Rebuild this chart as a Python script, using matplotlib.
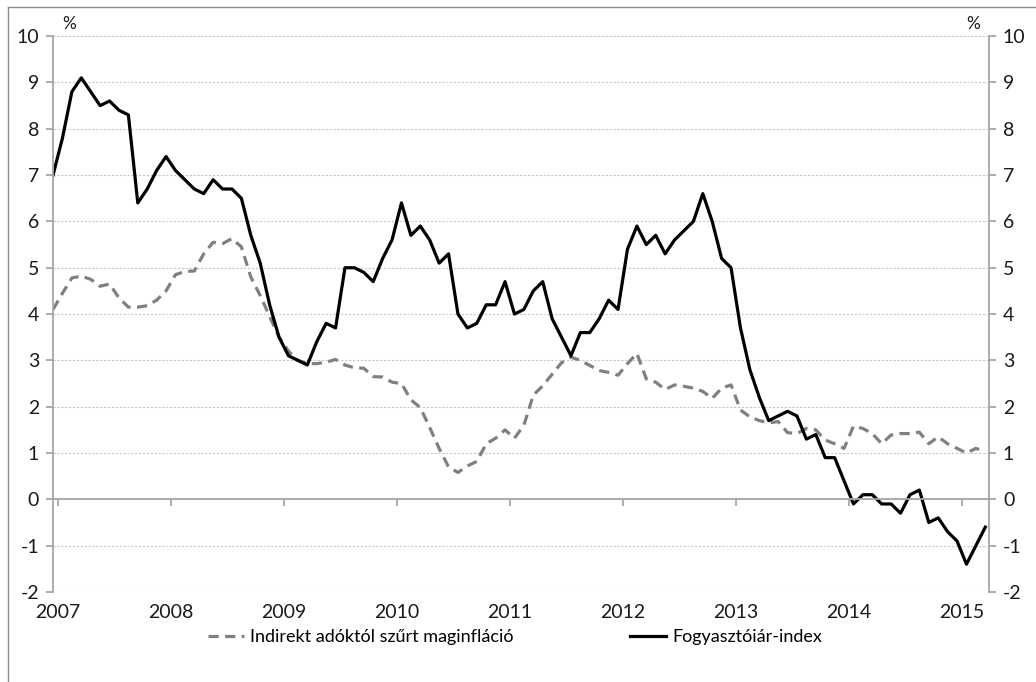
import matplotlib.pyplot as plt
from matplotlib.lines import Line2D

# --------------------------------
# DATA: MONTHLY, DEC 2006 - MAR 2015 (%)
# --------------------------------

years = ["2007", "2008", "2009", "2010", "2011", "2012", "2013", "2014", "2015"]

cpi = [7.0,
       7.8, 8.8, 9.1, 8.8, 8.5, 8.6, 8.4, 8.3, 6.4, 6.7, 7.1, 7.4,
       7.1, 6.9, 6.7, 6.6, 6.9, 6.7, 6.7, 6.5, 5.7, 5.1, 4.2, 3.5,
       3.1, 3.0, 2.9, 3.4, 3.8, 3.7, 5.0, 5.0, 4.9, 4.7, 5.2, 5.6,
       6.4, 5.7, 5.9, 5.6, 5.1, 5.3, 4.0, 3.7, 3.8, 4.2, 4.2, 4.7,
       4.0, 4.1, 4.5, 4.7, 3.9, 3.5, 3.1, 3.6, 3.6, 3.9, 4.3, 4.1,
       5.4, 5.9, 5.5, 5.7, 5.3, 5.6, 5.8, 6.0, 6.6, 6.0, 5.2, 5.0,
       3.7, 2.8, 2.2, 1.7, 1.8, 1.9, 1.8, 1.3, 1.4, 0.9, 0.9, 0.4,
       -0.1, 0.1, 0.1, -0.1, -0.1, -0.3, 0.1, 0.2, -0.5, -0.4, -0.7, -0.9,
       -1.4, -1.0, -0.6]

core = [4.1,
        4.45, 4.78, 4.82, 4.75, 4.6, 4.65, 4.35, 4.15, 4.15, 4.18, 4.3, 4.5,
        4.85, 4.92, 4.93, 5.3, 5.55, 5.52, 5.63, 5.45, 4.8, 4.4, 3.95, 3.5,
        3.2, 3.0, 2.93, 2.93, 2.96, 3.02, 2.9, 2.84, 2.83, 2.65, 2.64, 2.53,
        2.5, 2.15, 1.98, 1.55, 1.1, 0.7, 0.58, 0.72, 0.82, 1.2, 1.32, 1.5,
        1.32, 1.6, 2.25, 2.45, 2.7, 2.95, 3.07, 3.0, 2.89, 2.78, 2.74, 2.68,
        2.93, 3.15, 2.6, 2.53, 2.37, 2.47, 2.44, 2.4, 2.33, 2.18, 2.4, 2.47,
        1.93, 1.78, 1.7, 1.65, 1.68, 1.44, 1.42, 1.53, 1.5, 1.28, 1.2, 1.1,
        1.58, 1.53, 1.42, 1.2, 1.39, 1.42, 1.42, 1.45, 1.2, 1.35, 1.2, 1.1,
        1.0, 1.1, 1.03]

months = list(range(len(cpi)))
year_pos = [12 * k + 0.5 for k in range(len(years))]

plt.rcParams["font.family"] = ["Lato", "DejaVu Sans"]
plt.rcParams["font.size"] = 14
plt.rcParams["axes.unicode_minus"] = False

# --------------------------------
# CHART
# --------------------------------

fig = plt.figure(figsize=(10.36, 6.82), dpi=100)
ax = fig.add_axes([0.0512, 0.132, 0.9035, 0.815])

axis_grey = "#a6a6a6"
text_col = "#1a1a1a"

ax.plot(months, core, color="#808080", lw=2.3, dashes=(3.2, 2.0),
        label="Indirekt adóktól szűrt maginfláció")
ax.plot(months, cpi, color="black", lw=2.3,
        label="Fogyasztóiár-index")

ax.set_xlim(0, 99.4)
ax.set_ylim(-2, 10)
ax.set_yticks(range(-2, 11))
ax.grid(axis="y", color="#c8c8c8", ls=(0, (2, 1.5)), lw=0.8)
ax.set_axisbelow(True)

# x axis drawn at zero, year labels at the bottom
ax.spines["bottom"].set_position(("data", 0))
ax.spines["top"].set_visible(False)
for s in ["bottom", "left", "right"]:
    ax.spines[s].set_color(axis_grey)
    ax.spines[s].set_linewidth(1.3)
ax.set_xticks(year_pos)
ax.set_xticklabels([])
ax.tick_params(axis="x", direction="out", length=5, color=axis_grey, width=1.3)

sec = ax.secondary_xaxis(0.0)
sec.set_xticks(year_pos)
sec.set_xticklabels(years)
sec.spines["bottom"].set_visible(False)
sec.tick_params(length=0, pad=9, labelcolor=text_col)

ax.tick_params(axis="y", left=True, right=True, labelleft=True, labelright=True,
               direction="out", length=5, color=axis_grey, width=1.3,
               pad=5, labelcolor=text_col)

ax.text(0.01, 1.008, "%", transform=ax.transAxes, ha="left", va="bottom",
        fontsize=12.5, color=text_col)
ax.text(0.99, 1.008, "%", transform=ax.transAxes, ha="right", va="bottom",
        fontsize=12.5, color=text_col)

fig.legend(loc="lower center", bbox_to_anchor=(0.497, 0.03), ncol=2, frameon=False,
           handlelength=2.0, columnspacing=6.5, handletextpad=0.3, fontsize=13)

# outer frame (only top and left are visible in the original crop)
fig.add_artist(Line2D([8 / 1036, 1.0], [1 - 7 / 682, 1 - 7 / 682], color="#8c8c8c", lw=1))
fig.add_artist(Line2D([8 / 1036, 8 / 1036], [0.0, 1 - 7 / 682], color="#8c8c8c", lw=1))

plt.savefig("out.png", dpi=100)
